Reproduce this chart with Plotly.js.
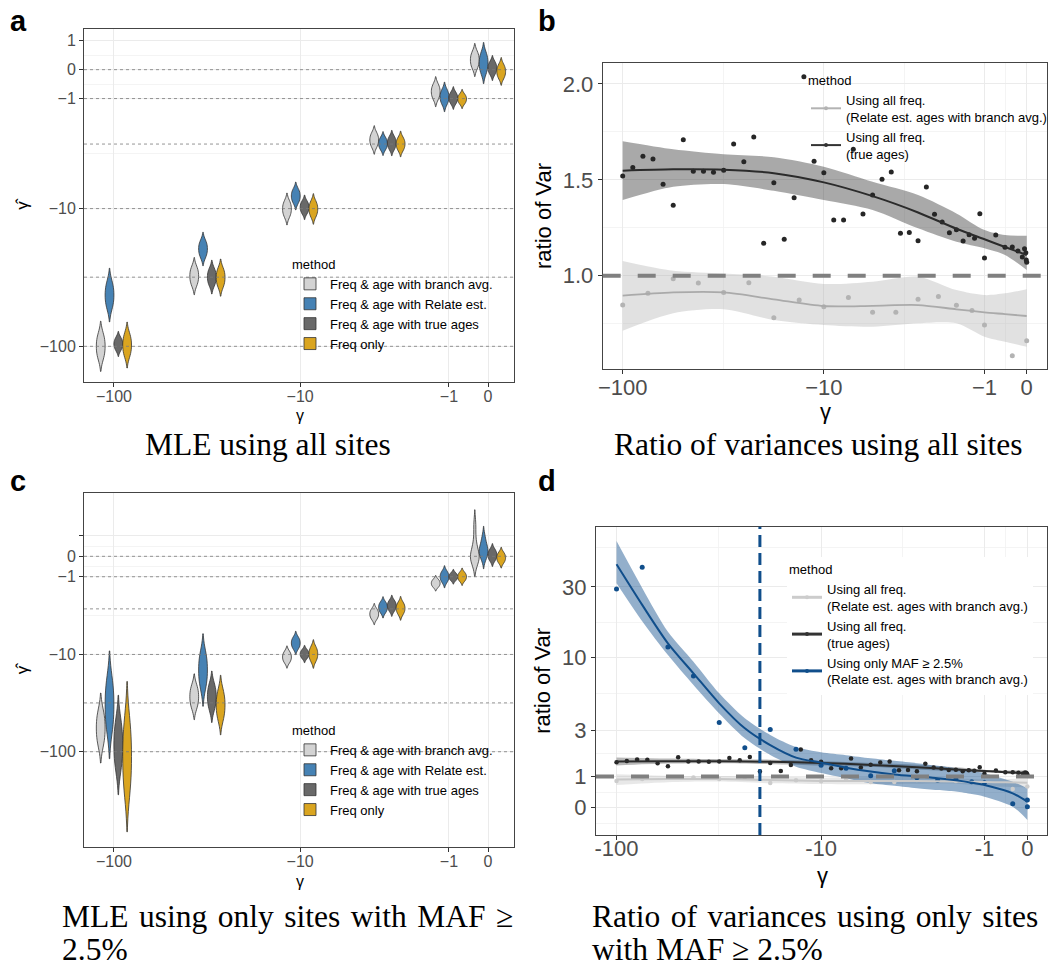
<!DOCTYPE html>
<html>
<head>
<meta charset="utf-8">
<script src="https://cdn.plot.ly/plotly-3.0.1.min.js"></script>
<style>html,body{margin:0;padding:0;background:#fff}#chart{width:1053px;height:967px}</style>
</head>
<body>
<div id="chart"></div>
<script>
// ---------------- DATA ----------------
// true selection coefficients used in the simulations (violin groups)
const groupGamma = [-100, -31.6, -10, -3.16, -1, 0];
const methods = ['Freq & age with branch avg.', 'Freq & age with Relate est.', 'Freq & age with true ages', 'Freq only'];
const methodColors = ['#D3D3D3', '#4682B4', '#696969', '#DAA520'];

// panel a: MLE using all sites (estimated gamma-hat, quantile samples per group)
const a_branchAvg = [[-120.8,-109.9,-100,-91.0,-82.8],[-35.7,-33.3,-31.0,-28.9,-27.0],[-11.37,-10.70,-10.06,-9.47,-8.91],[-3.31,-3.10,-2.91,-2.73,-2.55],[-0.995,-0.868,-0.749,-0.632,-0.512],[0.074,0.198,0.324,0.45,0.578]];
const a_relate    = [[-52.1,-47.1,-42.6,-38.5,-34.8],[-22.4,-21.0,-19.7,-18.5,-17.4],[-8.97,-8.51,-8.06,-7.63,-7.24],[-3.47,-3.30,-3.13,-2.96,-2.81],[-1.19,-1.06,-0.939,-0.818,-0.699],[-0.088,0.066,0.222,0.378,0.536]];
const a_trueAges  = [[-105.7,-100.7,-96.2,-91.8,-87.5],[-35.8,-33.7,-31.5,-29.6,-27.8],[-10.75,-10.25,-9.79,-9.33,-8.91],[-3.46,-3.27,-3.09,-2.92,-2.76],[-1.173,-1.073,-0.979,-0.888,-0.793],[-0.132,-0.038,0.055,0.149,0.243]];
const a_freqOnly  = [[-116.4,-106.7,-97.9,-89.9,-82.4],[-36.6,-34.2,-31.8,-29.6,-27.7],[-11.31,-10.67,-10.06,-9.49,-8.95],[-3.53,-3.34,-3.15,-2.98,-2.81],[-1.179,-1.098,-1.015,-0.933,-0.858],[-0.268,-0.164,-0.06,0.044,0.149]];

// panel c: MLE using only sites with MAF >= 2.5%
const c_branchAvg = [[-83.0,-68.9,-57.1,-47.4,-39.4],[-34.9,-30.9,-27.3,-24.2,-21.4],[-12.0,-11.31,-10.65,-10.02,-9.43],[-4.14,-3.88,-3.64,-3.42,-3.20],[-1.563,-1.46,-1.358,-1.259,-1.163],[-0.231,-0.138,-0.046,0.046,0.185,0.705,1.61]];
const c_relate    = [[-58.7,-44.2,-33.1,-24.8,-18.6],[-21.4,-17.6,-14.5,-11.9,-9.81],[-8.61,-8.08,-7.58,-7.10,-6.66],[-3.46,-3.24,-3.03,-2.82,-2.64],[-1.27,-1.133,-1.0,-0.871,-0.744],[-0.092,0.046,0.185,0.30,0.418,0.608,0.954]];
const c_trueAges  = [[-144.9,-111.2,-85.3,-65.5,-50.2],[-36.0,-31.3,-27.3,-23.8,-20.8],[-10.87,-10.38,-9.9,-9.45,-9.01],[-3.31,-3.10,-2.89,-2.70,-2.52],[-1.179,-1.089,-1.0,-0.913,-0.828],[-0.183,-0.062,0.06,0.182,0.304]];
const c_freqOnly  = [[-250,-167.5,-112.2,-75.2,-50.4],[-45.7,-39.0,-33.2,-28.4,-24.2],[-11.55,-10.70,-9.9,-9.16,-8.47],[-3.61,-3.35,-3.11,-2.89,-2.67],[-1.21,-1.104,-1.0,-0.898,-0.798],[-0.286,-0.175,-0.064,0.046,0.157]];

// panels b/d: ratio of variances, true ages (all freq.)
const gammaTrue = [-100,-89.1,-79.4,-70.8,-63.1,-56.2,-50.1,-44.7,-39.8,-35.5,-31.6,-28.2,-25.1,-22.4,-20,-17.8,-15.8,-14.1,-12.6,-11.2,-10,
  -8.91,-7.94,-7.08,-6.31,-5.62,-5.01,-4.47,-3.98,-3.55,-3.16,-2.82,-2.51,-2.24,-2,-1.78,-1.58,-1.41,-1.26,-1.12,-1,
  -0.72,-0.5,-0.33,-0.2,-0.1,-0.05,-0.02,-0.01,0];
const varTrue = [1.52,1.565,1.623,1.609,1.477,1.367,1.709,1.545,1.545,1.54,1.55,1.687,1.595,1.724,1.169,1.485,1.19,1.407,2.038,1.597,1.537,
  1.29,1.29,1.659,1.322,1.421,1.503,1.541,1.221,1.226,1.183,1.463,1.32,1.28,1.224,1.24,1.181,1.214,1.195,1.323,1.092,
  1.212,1.148,1.15,1.129,1.098,1.141,1.12,1.082,1.07];
// Relate est. ages with branch avg. (all freq.)
const gammaRelate = [-100,-75,-56.2,-42.2,-31.6,-23.7,-17.8,-13.3,-10,-7.5,-5.62,-4.22,-3.16,-2.37,-1.78,-1.33,-1,-0.33,0];
const varRelate = [0.847,0.908,0.984,0.962,0.913,0.963,0.781,0.873,0.838,0.887,0.809,0.809,0.877,0.892,0.846,0.819,0.743,0.583,0.661];
// only MAF >= 2.5% (Relate est. ages with branch avg.)
const gammaMAF = [-100,-75,-56.2,-42.2,-31.6,-23.7,-17.8,-13.3,-10,-7.5,-5.62,-4.22,-3.16,-2.37,-1.78,-1.33,-1,-0.33,0,0];
const varMAF = [29.0,40.6,11.8,7.47,3.44,2.12,3.03,2.05,1.4,1.29,1.026,1.20,0.954,0.868,0.9,0.823,0.788,0.124,0.237,0.03];

// loess fits with 95% bands
const smoothGamma = [-100,-56.2,-31.6,-17.8,-10,-5.62,-3.16,-1.78,-1,-0.5,0];
const trueFit = [1.548,1.555,1.553,1.535,1.487,1.415,1.33,1.245,1.19,1.15,1.108];
const trueHi  = [1.701,1.659,1.633,1.618,1.569,1.49,1.421,1.325,1.238,1.212,1.209];
const trueLo  = [1.395,1.464,1.478,1.443,1.395,1.343,1.247,1.177,1.143,1.108,1.03];
const relFit  = [0.896,0.913,0.913,0.877,0.842,0.843,0.847,0.825,0.809,0.80,0.79];
const relHi   = [1.077,1.026,1.012,0.995,0.957,0.969,0.995,0.925,0.899,0.908,0.929];
const relLo   = [0.713,0.804,0.825,0.769,0.743,0.734,0.752,0.752,0.682,0.656,0.63];
const mafSmoothGamma = [-100,-75,-56.2,-42.2,-31.6,-23.7,-17.8,-13.3,-10,-7.5,-5.62,-4.22,-3.16,-2.37,-1.78,-1.33,-1,-0.33,0];
const mafFit = [42.5,22.7,12.5,7.8,4.79,3.1,2.24,1.7,1.5,1.31,1.17,1.07,1.0,0.94,0.87,0.79,0.71,0.445,0.184];
const mafHi  = [60.8,29.5,14.97,9.38,5.65,3.71,2.74,2.15,1.92,1.8,1.67,1.57,1.48,1.38,1.29,1.2,1.11,0.82,0.61];
const mafLo  = [31.7,17.6,10.4,6.47,4.04,2.57,1.81,1.35,1.12,0.94,0.77,0.69,0.61,0.55,0.50,0.42,0.34,0.03,-0.38];

const refRatio = 1;          // ratio of Var = 1
const mafCutoffGamma = -20;  // vertical dashed line in d

// tick labels
const xTickGamma = [-100, -10, -1, 0];
const aYTickGamma = [1, 0, -1, -10, -100];
const cYTickGamma = [1, 0, -1, -10, -100];
const bYTicks = [1.0, 1.5, 2.0];
const dYTicks = [0, 1, 3, 10, 30];

// ---------------- HELPERS ----------------
const pl = v => Math.asinh(v / 2) / Math.LN10;   // pseudo-log transform
const minus = g => (g < 0 ? '\u2212' + Math.abs(g) : String(g));
const mids = arr => { const t = arr.map(pl).sort((a, b) => a - b); const r = []; for (let i = 0; i < t.length - 1; i++) r.push((t[i] + t[i + 1]) / 2); return r; };
const FONT = 'Liberation Sans, Arial, Helvetica, sans-serif';
const SERIF = 'Liberation Serif, Times New Roman, serif';
const W = 1053, H = 967;
const dom = (x0, y0, x1, y1) => ({ x: [x0 / W, x1 / W], y: [1 - y1 / H, 1 - y0 / H] });
const boxA = dom(84, 29, 514, 382), boxB = dom(602.7, 62.7, 1046.7, 369.3);
const boxC = dom(84, 493.3, 514, 846.7), boxD = dom(596, 526.7, 1047.3, 835);

function ax(o) {
  return Object.assign({
    showgrid: true, gridcolor: '#ebebeb', gridwidth: 1, zeroline: false,
    showline: true, linecolor: '#444444', linewidth: 1, mirror: true,
    ticks: 'outside', ticklen: 4, tickwidth: 1, tickcolor: '#333333',
    tickmode: 'array', automargin: false, fixedrange: true
  }, o);
}
const minorGrid = vals => ({ tickmode: 'array', tickvals: vals, showgrid: true, gridcolor: '#f1f1f1', gridwidth: 0.8, ticks: '' });

// ---------------- TRACES ----------------
const traces = [];
const violinPanels = [
  { key: 'a', xa: 'x', ya: 'y', legend: 'legend', data: [a_branchAvg, a_relate, a_trueAges, a_freqOnly] },
  { key: 'c', xa: 'x3', ya: 'y3', legend: 'legend3', data: [c_branchAvg, c_relate, c_trueAges, c_freqOnly] }
];
violinPanels.forEach(p => {
  p.data.forEach((series, m) => {
    series.forEach((samples, gi) => {
      traces.push({
        type: 'violin', xaxis: p.xa, yaxis: p.ya,
        x: samples.map(() => pl(groupGamma[gi])), y: samples.map(pl),
        name: methods[m], legend: p.legend, showlegend: gi === 0,
        offsetgroup: p.key + m, alignmentgroup: p.key, scalegroup: p.key + m + '_' + gi,
        fillcolor: methodColors[m], line: { color: '#333333', width: 0.8 },
        points: false, spanmode: 'soft', hoverinfo: 'y'
      });
    });
  });
});

function ribbon(xg, lo, hi, ty, color, xa, ya) {
  const xs = xg.map(pl);
  traces.push({ type: 'scatter', mode: 'lines', xaxis: xa, yaxis: ya, x: xs, y: lo.map(ty),
    line: { width: 0, shape: 'spline', smoothing: 0.8 }, hoverinfo: 'skip', showlegend: false });
  traces.push({ type: 'scatter', mode: 'lines', xaxis: xa, yaxis: ya, x: xs, y: hi.map(ty),
    fill: 'tonexty', fillcolor: color, line: { width: 0, shape: 'spline', smoothing: 0.8 }, hoverinfo: 'skip', showlegend: false });
}
function line(xg, yv, ty, color, w, xa, ya) {
  traces.push({ type: 'scatter', mode: 'lines', xaxis: xa, yaxis: ya, x: xg.map(pl), y: yv.map(ty),
    line: { color: color, width: w, shape: 'spline', smoothing: 0.8 }, hoverinfo: 'skip', showlegend: false });
}
function pts(xg, yv, ty, color, s, xa, ya) {
  traces.push({ type: 'scatter', mode: 'markers', xaxis: xa, yaxis: ya, x: xg.map(pl), y: yv.map(ty),
    marker: { color: color, size: s }, showlegend: false });
}
function legendOnly(name, color, lw, ms, legend, xa, ya) {
  traces.push({ type: 'scatter', mode: 'lines+markers', x: [null], y: [null], xaxis: xa, yaxis: ya,
    name: name, legend: legend, line: { color: color, width: lw }, marker: { color: color, size: ms }, hoverinfo: 'skip' });
}
const idY = v => v;
const relName = 'Using all freq.<br>(Relate est. ages with branch avg.)';
const trueName = 'Using all freq.<br>(true ages)';
const mafName = 'Using only MAF \u2265 2.5%<br>(Relate est. ages with branch avg.)';

// panel b
ribbon(smoothGamma, relLo, relHi, idY, 'rgba(170,170,170,0.35)', 'x2', 'y2');
ribbon(smoothGamma, trueLo, trueHi, idY, 'rgba(51,51,51,0.42)', 'x2', 'y2');
pts(gammaRelate, varRelate, idY, '#b3b3b3', 5, 'x2', 'y2');
pts(gammaTrue, varTrue, idY, '#262626', 5, 'x2', 'y2');
line(smoothGamma, relFit, idY, '#aaaaaa', 1.8, 'x2', 'y2');
line(smoothGamma, trueFit, idY, '#2b2b2b', 2, 'x2', 'y2');
legendOnly(relName, '#b3b3b3', 2, 4, 'legend2', 'x2', 'y2');
legendOnly(trueName, '#333333', 2, 4, 'legend2', 'x2', 'y2');

// panel d
ribbon(smoothGamma, relLo, relHi, pl, 'rgba(190,190,190,0.35)', 'x4', 'y4');
ribbon(smoothGamma, trueLo, trueHi, pl, 'rgba(51,51,51,0.35)', 'x4', 'y4');
ribbon(mafSmoothGamma, mafLo, mafHi, pl, 'rgba(16,78,139,0.45)', 'x4', 'y4');
pts(gammaRelate, varRelate, pl, '#cccccc', 4.5, 'x4', 'y4');
pts(gammaTrue, varTrue, pl, '#262626', 4.5, 'x4', 'y4');
pts(gammaMAF, varMAF, pl, '#104E8B', 5, 'x4', 'y4');
line(smoothGamma, relFit, pl, '#c8c8c8', 2, 'x4', 'y4');
line(smoothGamma, trueFit, pl, '#2b2b2b', 2, 'x4', 'y4');
line(mafSmoothGamma, mafFit, pl, '#104E8B', 2, 'x4', 'y4');
legendOnly(relName, '#cccccc', 3, 4, 'legend4', 'x4', 'y4');
legendOnly(trueName, '#333333', 3, 4, 'legend4', 'x4', 'y4');
legendOnly(mafName, '#104E8B', 3, 4, 'legend4', 'x4', 'y4');

// ---------------- SHAPES ----------------
const shapes = [];
[['x', 'y'], ['x3', 'y3']].forEach(([xa, ya]) => {
  groupGamma.forEach(g => shapes.push({ type: 'line', xref: xa + ' domain', x0: 0, x1: 1, yref: ya, y0: pl(g), y1: pl(g),
    line: { color: '#7a7a7a', width: 0.8, dash: '3px,3px' }, layer: 'above' }));
});
shapes.push({ type: 'line', xref: 'x2 domain', x0: 0, x1: 1, yref: 'y2', y0: refRatio, y1: refRatio,
  line: { color: '#808080', width: 4, dash: '18px,17px' }, layer: 'above' });
shapes.push({ type: 'line', xref: 'x4 domain', x0: 0, x1: 1, yref: 'y4', y0: pl(refRatio), y1: pl(refRatio),
  line: { color: '#808080', width: 4, dash: '18px,17px' }, layer: 'above' });
shapes.push({ type: 'line', xref: 'x4', x0: pl(mafCutoffGamma), x1: pl(mafCutoffGamma), yref: 'y4 domain', y0: 0, y1: 1,
  line: { color: '#104E8B', width: 3, dash: '12px,6px' }, layer: 'above' });

// ---------------- ANNOTATIONS ----------------
const ann = [];
const letter = (t, px, py) => ann.push({ text: '<b>' + t + '</b>', xref: 'paper', yref: 'paper', x: px / W, y: 1 - py / H,
  xanchor: 'left', yanchor: 'top', showarrow: false, font: { family: FONT, size: 29, color: '#000' } });
letter('a', 8, 3); letter('b', 536, 3); letter('c', 8, 463); letter('d', 536, 463);
const cap = (t, px, py, xanchor) => ann.push({ text: t, xref: 'paper', yref: 'paper', x: px / W, y: 1 - py / H,
  xanchor: xanchor, yanchor: 'middle', showarrow: false, font: { family: SERIF, size: 31.5, color: '#000' } });
cap('MLE using all sites', 268, 445, 'center');
cap('Ratio of variances using all sites', 818, 445, 'center');
cap('MLE using only sites with MAF \u2265'.split(' ').join(' \u200A'), 60, 916, 'left');
cap('2.5%', 60, 949, 'left');
cap('Ratio of variances using only sites'.split(' ').join(' \u200A'), 590, 916, 'left');
cap('with MAF \u2265 2.5%', 590, 949, 'left');
// x-axis titles (gamma)
const xTitle = (px, py, size) => ann.push({ text: '\u03b3', xref: 'paper', yref: 'paper', x: px / W, y: 1 - py / H,
  xanchor: 'center', yanchor: 'middle', showarrow: false, font: { family: FONT, size: size, color: '#000' } });
xTitle(300, 415, 16); xTitle(825, 411, 22); xTitle(300, 881, 16); xTitle(822, 875, 22);

// ---------------- LAYOUT ----------------
const xTickVals = xTickGamma.map(pl);
const legendBase = (x, y, bg) => ({ x: x / W, y: 1 - y / H, xanchor: 'left', yanchor: 'top', bgcolor: bg,
  font: { family: FONT, size: 13, color: '#000' }, title: { text: 'method', font: { family: FONT, size: 13 } },
  itemwidth: 30, tracegroupgap: 0, traceorder: 'normal' });

const layout = {
  width: W, height: H, margin: { l: 0, r: 0, t: 0, b: 0 },
  paper_bgcolor: '#ffffff', plot_bgcolor: '#ffffff',
  font: { family: FONT, color: '#000' },
  violinmode: 'group', violingap: 0.1, violingroupgap: 0,
  showlegend: true,
  xaxis: ax({ domain: boxA.x, anchor: 'y', range: [-2.16, 0.139], tickvals: xTickVals, ticktext: xTickGamma.map(minus),
    tickfont: { size: 16, color: '#4d4d4d' }, ticklabelstandoff: -4 }),
  yaxis: ax({ domain: boxA.y, anchor: 'x', range: [-2.258, 0.294], tickvals: aYTickGamma.map(pl), ticktext: aYTickGamma.map(minus),
    tickfont: { size: 16, color: '#4d4d4d' }, title: { text: '\u03b3\u0302', font: { size: 17 }, standoff: 6 },
    minor: minorGrid(mids(aYTickGamma)) }),
  xaxis2: ax({ domain: boxB.x, anchor: 'y2', range: [-2.099, 0.099], tickvals: xTickVals, ticktext: xTickGamma.map(minus),
    tickfont: { size: 22, color: '#4d4d4d' }, ticklabelstandoff: -6,
    minor: minorGrid(mids(xTickGamma)) }),
  yaxis2: ax({ domain: boxB.y, anchor: 'x2', range: [0.512, 2.111], tickvals: bYTicks, ticktext: bYTicks.map(v => v.toFixed(1)),
    tickfont: { size: 22, color: '#4d4d4d' }, title: { text: 'ratio of Var', font: { size: 22 }, standoff: 5 },
    minor: minorGrid([0.75, 1.25, 1.75]) }),
  xaxis3: ax({ domain: boxC.x, anchor: 'y3', range: [-2.16, 0.139], tickvals: xTickVals, ticktext: xTickGamma.map(minus),
    tickfont: { size: 16, color: '#4d4d4d' }, ticklabelstandoff: -4 }),
  yaxis3: ax({ domain: boxC.y, anchor: 'x3', range: [-2.972, 0.645], tickvals: cYTickGamma.map(pl),
    ticktext: cYTickGamma.map(g => (g === 1 ? '' : minus(g))),
    tickfont: { size: 16, color: '#4d4d4d' }, title: { text: '\u03b3\u0302', font: { size: 17 }, standoff: 6 },
    minor: minorGrid(mids(cYTickGamma)) }),
  xaxis4: ax({ domain: boxD.x, anchor: 'y4', range: [-2.1, 0.097], tickvals: xTickVals, ticktext: xTickGamma.map(String),
    tickfont: { size: 22, color: '#4d4d4d' }, ticklabelstandoff: -10,
    minor: minorGrid(mids(xTickGamma)) }),
  yaxis4: ax({ domain: boxD.y, anchor: 'x4', range: [-0.183, 1.88], tickvals: dYTicks.map(pl), ticktext: dYTicks.map(String),
    tickfont: { size: 22, color: '#4d4d4d' }, title: { text: 'ratio of Var', font: { size: 22 }, standoff: 5 },
    minor: minorGrid(mids([-1].concat(dYTicks, [100]))) }),
  legend: legendBase(290, 252, 'rgba(0,0,0,0)'),
  legend2: legendBase(806, 68, 'rgba(0,0,0,0)'),
  legend3: legendBase(290, 718, 'rgba(0,0,0,0)'),
  legend4: legendBase(787, 557, '#ffffff'),
  shapes: shapes,
  annotations: ann
};

Plotly.newPlot('chart', traces, layout, { displayModeBar: false, staticPlot: true });
</script>
</body>
</html>
